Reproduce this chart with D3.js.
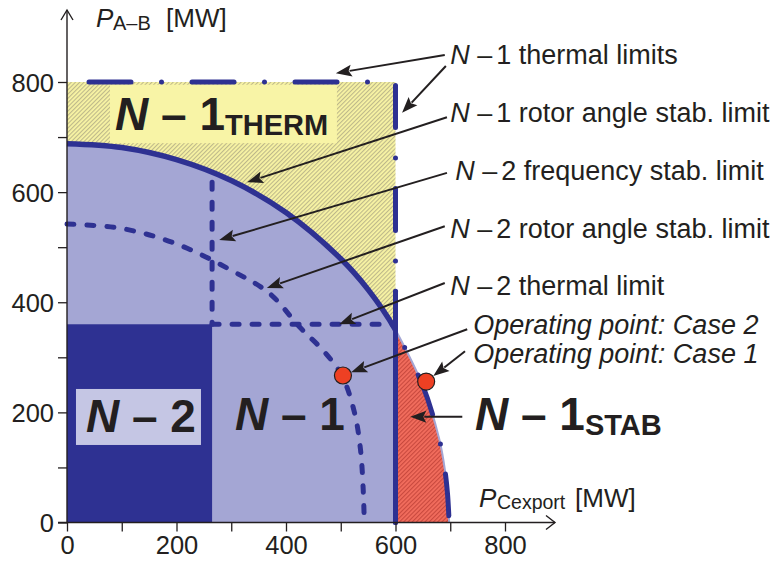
<!DOCTYPE html>
<html><head><meta charset="utf-8">
<script src="https://cdn.jsdelivr.net/npm/d3@7"></script>
<style>
body{margin:0;background:#fff}
svg{display:block;font-family:"Liberation Sans",Arial,Helvetica,sans-serif}
</style>
</head><body>
<svg id="chart" width="777" height="566"></svg>
<script>
// ---------------- data (MW) ----------------
const xTickValues = [0,100,200,300,400,500,600,700,800];
const xTickLabels = ["0","","200","","400","","600","","800"];
const yTickValues = [0,100,200,300,400,500,600,700,800];
const yTickLabels = ["0","","200","","400","","600","","800"];
const n1ThermalLimitX = [600];          // P_Cexport limit
const n1ThermalLimitY = [800];          // P_A-B limit
const n2ThermalLimitY = [360];
const n2FrequencyLimitX = [265];
const n1RotorCurveX = [0,100,200,300,400,500,550,600,650,680,690,695,698];
const n1RotorCurveY = [688,681,659,621,563,479,423,350,248,151,97,52,0];
const n2RotorCurveX = [0,100,200,300,370,424,470,502,525,536,541,543];
const n2RotorCurveY = [542,534,506,458,416,356,310,267,200,133,60,0];
const opCases = ["Case 2","Case 1"];
const opX = [504,656];
const opY = [267,256];

// annotation anchors (data units): text start, arrow from, arrow to
const annTexts = [
  {pre:"N", rest:"1 thermal limits", sign:"–", x:700, y:833},
  {pre:"N", rest:"1 rotor angle stab. limit", sign:"–", x:700, y:727},
  {pre:"N", rest:"2 frequency stab. limit", sign:"–", x:709, y:622},
  {pre:"N", rest:"2 rotor angle stab. limit", sign:"–", x:700, y:517},
  {pre:"N", rest:"2 thermal limit", sign:"–", x:700, y:413}
];
const caseTexts = [{t:"Operating point: Case 2", x:742, y:342},{t:"Operating point: Case 1", x:742, y:290}];
const arrows = [
  [690,849,491,816],[692,829,612,744],[694,736,329,618],[694,635,278,513],
  [690,538,365,426],[690,435,497,360],[731,351,519,273],[727,311,669,266],[722,192,627,192]
];

// ---------------- drawing ----------------
const svg = d3.select("#chart");
const x = d3.scaleLinear().domain([0,800]).range([67,505]);
const y = d3.scaleLinear().domain([0,800]).range([522.5,82]);
const ink = "#231f20", navy = "#2e3192", lav = "#a4a6d4";

const defs = svg.append("defs");
function hatch(id, bg, fg){
  const p = defs.append("pattern").attr("id",id).attr("patternUnits","userSpaceOnUse")
    .attr("width",3).attr("height",3).attr("patternTransform","rotate(45)");
  p.append("rect").attr("width",3).attr("height",3).attr("fill",bg);
  p.append("rect").attr("width",1.1).attr("height",3).attr("fill",fg);
}
hatch("hy","#f8f4a4","#bdb88a");
hatch("hr","#f26d5d","#c8493e");
defs.append("clipPath").attr("id","clipL").append("rect")
  .attr("x",0).attr("y",0).attr("width",x(600)).attr("height",566);
defs.append("clipPath").attr("id","clipR").append("rect")
  .attr("x",x(600)).attr("y",0).attr("width",300).attr("height",566);

const n1pts = n1RotorCurveX.map((v,i)=>[v,n1RotorCurveY[i]]);
const n2pts = n2RotorCurveX.map((v,i)=>[v,n2RotorCurveY[i]]);
const line = d3.line().x(d=>x(d[0])).y(d=>y(d[1])).curve(d3.curveCatmullRom);
const area = d3.area().x(d=>x(d[0])).y0(y(0)).y1(d=>y(d[1])).curve(d3.curveCatmullRom);

// yellow N-1 thermal region
svg.append("rect").attr("x",x(0)).attr("y",y(n1ThermalLimitY[0]))
  .attr("width",x(n1ThermalLimitX[0])-x(0)).attr("height",y(0)-y(n1ThermalLimitY[0]))
  .attr("fill","url(#hy)");
// lavender N-1 region
svg.append("path").attr("d",area(n1pts)).attr("fill",lav).attr("clip-path","url(#clipL)");
// red N-1 STAB region
svg.append("path").attr("d",area(n1pts)).attr("fill","url(#hr)").attr("clip-path","url(#clipR)");
// dark N-2 region
svg.append("rect").attr("x",x(0)).attr("y",y(n2ThermalLimitY[0]))
  .attr("width",x(n2FrequencyLimitX[0])-x(0)).attr("height",y(0)-y(n2ThermalLimitY[0]))
  .attr("fill",navy);

// label boxes
svg.append("rect").attr("x",x(78.5)).attr("y",y(795)).attr("width",x(493)-x(78.5)).attr("height",y(689)-y(795)).attr("fill","#f8f4a6");
svg.append("rect").attr("x",x(16.4)).attr("y",y(242.5)).attr("width",x(244.7)-x(16.4)).attr("height",y(140.8)-y(242.5)).attr("fill","#c5c6e4");

// N-2 rotor angle (dashed curve)
svg.append("path").attr("d",line(n2pts)).attr("fill","none").attr("stroke",navy)
  .attr("stroke-width",5).attr("stroke-linecap","round").attr("stroke-dasharray","7,13");
// N-2 frequency limit
const n1AtFreq = 618;
svg.append("line").attr("x1",x(n2FrequencyLimitX[0])).attr("x2",x(n2FrequencyLimitX[0]))
  .attr("y1",y(n1AtFreq)).attr("y2",y(n2ThermalLimitY[0]))
  .attr("stroke",navy).attr("stroke-width",5).attr("stroke-linecap","round").attr("stroke-dasharray","7,13");
// N-2 thermal limit
svg.append("line").attr("x1",x(n2FrequencyLimitX[0])).attr("x2",x(n1ThermalLimitX[0]))
  .attr("y1",y(n2ThermalLimitY[0])).attr("y2",y(n2ThermalLimitY[0]))
  .attr("stroke",navy).attr("stroke-width",5).attr("stroke-linecap","round").attr("stroke-dasharray","7,13");

// N-1 rotor angle: solid part
svg.append("path").attr("d",line(n1pts)).attr("fill","none").attr("stroke",navy)
  .attr("stroke-width",5.5).attr("clip-path","url(#clipL)");
// beyond thermal limit: thin light edge + dash-dot
const n1right = n1pts.filter(d=>d[0]>=600);
svg.append("path").attr("d",line(n1right)).attr("fill","none").attr("stroke",lav).attr("stroke-width",2);
svg.append("path").attr("d",line(n1right)).attr("fill","none").attr("stroke",navy)
  .attr("stroke-width",5).attr("stroke-linecap","round")
  .attr("stroke-dasharray","0,30.5,42,30.5").attr("stroke-dashoffset",83);

// N-1 thermal limits (dash-dot)
svg.append("line").attr("x1",x(n1ThermalLimitX[0])).attr("y1",y(n1ThermalLimitY[0]))
  .attr("x2",x(0)).attr("y2",y(n1ThermalLimitY[0]))
  .attr("stroke",navy).attr("stroke-width",5).attr("stroke-linecap","round")
  .attr("stroke-dasharray","0,30.5,42,30.5").attr("stroke-dashoffset",75);
svg.append("line").attr("x1",x(n1ThermalLimitX[0])).attr("y1",y(n1ThermalLimitY[0]))
  .attr("x2",x(n1ThermalLimitX[0])).attr("y2",y(0))
  .attr("stroke",navy).attr("stroke-width",5).attr("stroke-linecap","round")
  .attr("stroke-dasharray","0,30.5,42,30.5").attr("stroke-dashoffset",27);
svg.append("line").attr("x1",x(n1ThermalLimitX[0])).attr("y1",y(420))
  .attr("x2",x(n1ThermalLimitX[0])).attr("y2",y(0))
  .attr("stroke",navy).attr("stroke-width",5).attr("stroke-linecap","round");

// ---------------- axes ----------------
const xAxis = d3.axisBottom(x).tickValues(xTickValues).tickFormat((d,i)=>xTickLabels[i]).tickSize(9).tickSizeOuter(0);
const yAxis = d3.axisLeft(y).tickValues(yTickValues).tickFormat((d,i)=>yTickLabels[i]).tickSize(9).tickSizeOuter(0);
const gx = svg.append("g").attr("transform",`translate(0,${y(0)})`).call(xAxis);
const gy = svg.append("g").attr("transform",`translate(${x(0)},0)`).call(yAxis);
[gx,gy].forEach(g=>{
  g.select(".domain").remove();
  g.selectAll(".tick line").attr("stroke",ink).attr("stroke-width",1.3);
  g.selectAll(".tick text").attr("fill",ink).attr("font-size",25.5).attr("font-family","Liberation Sans, Arial, sans-serif");
});
gx.selectAll(".tick text").attr("y",13).attr("dy","0.71em");
gy.selectAll(".tick text").attr("x",-13).attr("dy","0.36em");
// axis lines with arrows
svg.append("path").attr("d",`M${x(0)},${y(0)}V10`).attr("stroke",ink).attr("stroke-width",1.4).attr("fill","none");
svg.append("path").attr("d",`M61,20L${x(0)},10L73,20`).attr("stroke",ink).attr("stroke-width",1.4).attr("fill","none");
svg.append("path").attr("d",`M${x(0)-9},${y(0)}H555`).attr("stroke",ink).attr("stroke-width",1.4).attr("fill","none");
svg.append("path").attr("d",`M546,${y(0)-7}L555,${y(0)}L546,${y(0)+7}`).attr("stroke",ink).attr("stroke-width",1.4).attr("fill","none");

// axis titles
const t1 = svg.append("text").attr("fill",ink).attr("font-size",26);
t1.append("tspan").attr("x",96).attr("y",27).attr("font-style","italic").text("P");
t1.append("tspan").attr("x",113).attr("y",30).attr("font-size",20).text("A–B");
t1.append("tspan").attr("x",166).attr("y",27).text("[MW]");
const t2 = svg.append("text").attr("fill",ink).attr("font-size",26);
t2.append("tspan").attr("x",479).attr("y",507).attr("font-style","italic").text("P");
t2.append("tspan").attr("x",497).attr("y",509).attr("font-size",19.5).text("Cexport");
t2.append("tspan").attr("x",575).attr("y",507).text("[MW]");

// big region labels
function bigLabel(xv,yv,num,sub){
  const t = svg.append("text").attr("x",x(xv)).attr("y",y(yv)).attr("fill",ink)
    .attr("font-size",46).attr("font-weight","bold");
  t.append("tspan").attr("font-style","italic").text("N");
  t.append("tspan").text(" – "+num);
  if(sub) t.append("tspan").attr("font-size",29).attr("dy",5).text(sub);
}
bigLabel(87.7,713,"1","THERM");
bigLabel(34.7,164.4,"2",null);
bigLabel(306.8,168,"1",null);
bigLabel(745.2,168,"1","STAB");

// operating points
svg.selectAll("circle.op").data(opX).join("circle").attr("class","op")
  .attr("cx",d=>x(d)).attr("cy",(d,i)=>y(opY[i])).attr("r",8.5)
  .attr("fill","#ee4023").attr("stroke",ink).attr("stroke-width",1.2);

// annotations
annTexts.forEach(a=>{
  const t = svg.append("text").attr("x",x(a.x)).attr("y",y(a.y)).attr("fill",ink).attr("font-size",27);
  t.append("tspan").attr("font-style","italic").text(a.pre);
  t.append("tspan").text(" "+a.sign);
  t.append("tspan").attr("dx",4).text(a.rest);
});
caseTexts.forEach(c=>{
  svg.append("text").attr("x",x(c.x)).attr("y",y(c.y)).attr("fill",ink).attr("font-size",27)
    .attr("font-style","italic").text(c.t);
});
arrows.forEach(a=>{
  const x1=x(a[0]),y1=y(a[1]),x2=x(a[2]),y2=y(a[3]);
  const dx=x2-x1, dy=y2-y1, L=Math.hypot(dx,dy), ux=dx/L, uy=dy/L;
  const hl=16, hw=6;
  const bx=x2-ux*hl, by=y2-uy*hl;
  svg.append("line").attr("x1",x1).attr("y1",y1).attr("x2",bx+ux*2).attr("y2",by+uy*2)
    .attr("stroke",ink).attr("stroke-width",2);
  svg.append("path").attr("d",`M${x2},${y2}L${bx-uy*hw},${by+ux*hw}L${bx+ux*3},${by+uy*3}L${bx+uy*hw},${by-ux*hw}Z`)
    .attr("fill",ink);
});
</script>
</body></html>
